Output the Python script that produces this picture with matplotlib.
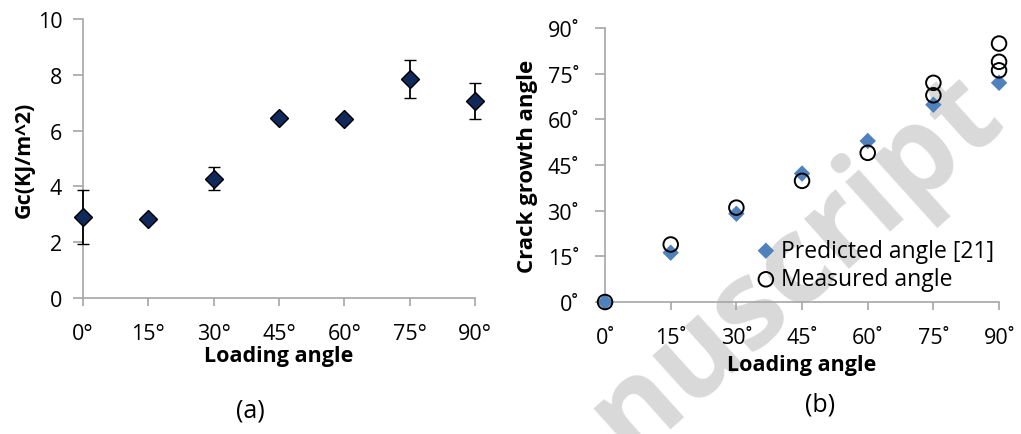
import numpy as np
import matplotlib.pyplot as plt

plt.rcParams['font.family'] = ['Open Sans', 'DejaVu Sans']

# panel (a)
angles = [0, 15, 30, 45, 60, 75, 90]
gc = [2.9, 2.85, 4.28, 6.47, 6.4, 7.85, 7.06]
gc_err = [0.97, 0.1, 0.42, 0.0, 0.0, 0.69, 0.66]
gc_ticks = ['0°', '15°', '30°', '45°', '60°', '75°', '90°']

# panel (b)
pred = [0, 16.2, 29, 42.2, 52.9, 64.8, 72]
meas_x = [0, 15, 30, 45, 60, 75, 75, 90, 90, 90]
meas_y = [0, 18.9, 31, 39.8, 49, 72, 67.9, 84.9, 78.9, 76.1]
deg_ticks = ['0˚', '15˚', '30˚', '45˚', '60˚', '75˚', '90˚']

fig = plt.figure(figsize=(10.21, 4.35), dpi=100)

# watermark fragment
fig.text(0.78, 0.39, 'nuscript', fontsize=88, fontweight='bold', color='#d9d9d9',
         rotation=42, ha='center', va='center', zorder=-1)

gray = '#a6a6a6'

def style(ax):
    ax.patch.set_alpha(0)
    for s in ['top', 'right']:
        ax.spines[s].set_visible(False)
    for s in ['left', 'bottom']:
        ax.spines[s].set_color(gray)
        ax.spines[s].set_linewidth(1.2)
    ax.tick_params(axis='both', colors=gray, labelcolor='black', labelsize=15.5,
                   length=6, width=1.2, direction='out')
    ax.tick_params(axis='y', length=7, pad=8)
    ax.set_xlim(0, 90)
    ax.set_xticks(angles)

ax1 = fig.add_axes([0.0813, 0.3126, 0.3839, 0.6414])
style(ax1)
ax1.errorbar(angles, gc, yerr=gc_err, fmt='D', color='black', mfc='#10285a',
             mec='black', ms=9, mew=1, capsize=4, elinewidth=1.3, capthick=1.3,
             clip_on=False, zorder=3)
ax1.set_ylim(0, 10)
ax1.set_yticks([0, 2, 4, 6, 8, 10])
ax1.set_xticklabels(gc_ticks)
ax1.tick_params(axis='x', pad=12)
ax1.set_xlabel('Loading angle', fontsize=15.5, fontweight='bold', labelpad=1)
ax1.set_ylabel('Gc(KJ/m^2)', fontsize=15.5, fontweight='bold')
ax1.yaxis.set_label_coords(-0.122, 0.5)
fig.text(0.245, 0.055, '(a)', fontsize=18, ha='center', va='center')

ax2 = fig.add_axes([0.5926, 0.3034, 0.3859, 0.6299])
style(ax2)
ax2.scatter(angles, pred, marker='D', s=70, color='#4f81bd', edgecolors='none',
            label='Predicted angle [21]', clip_on=False, zorder=3)
ax2.scatter(meas_x, meas_y, marker='o', s=110, facecolors='none', edgecolors='black',
            linewidths=1.4, label='Measured angle', clip_on=False, zorder=4)
ax2.set_ylim(0, 90)
ax2.set_yticks(np.arange(0, 91, 15))
ax2.set_yticklabels(deg_ticks)
ax2.set_xticklabels(deg_ticks)
ax2.tick_params(axis='x', pad=12)
ax2.tick_params(axis='y', pad=12)
ax2.set_xlabel('Loading angle', fontsize=15.5, fontweight='bold', labelpad=4)
ax2.set_ylabel('Crack growth angle', fontsize=16, fontweight='bold')
ax2.yaxis.set_label_coords(-0.17, 0.5)
ax2.legend(loc='center left', bbox_to_anchor=(0.35, 0.135), frameon=False,
           fontsize=16.5, handletextpad=0.05, borderaxespad=0, labelspacing=0.2,
           handlelength=1.2)
fig.text(0.803, 0.068, '(b)', fontsize=18, ha='center', va='center')

fig.savefig('out.png', dpi=100)
